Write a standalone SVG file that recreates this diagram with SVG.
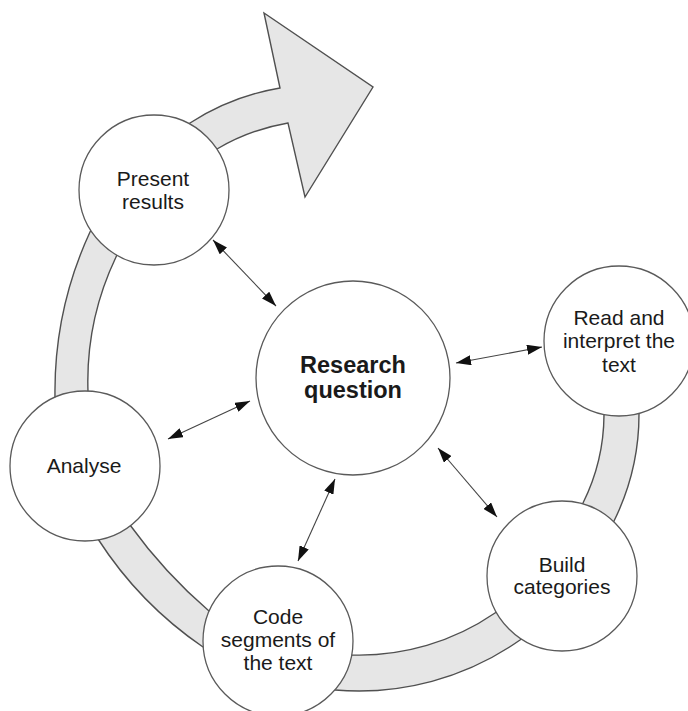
<svg xmlns="http://www.w3.org/2000/svg" width="688" height="711" viewBox="0 0 688 711">
<defs>
<style>
.node{fill:#ffffff;stroke:#5a5a5a;stroke-width:1.3}
.band{fill:#e6e6e6;stroke:#505050;stroke-width:1.4;stroke-linejoin:miter}
.conn{stroke:#444;stroke-width:1.1;fill:none;marker-start:url(#ah);marker-end:url(#ah)}
.lbl{font-family:"Liberation Sans",Arial,sans-serif;font-size:21px;fill:#1a1a1a;text-anchor:middle}
.bold{font-size:23.5px;font-weight:bold}
</style>
<marker id="ah" viewBox="0 0 15 10" refX="15" refY="5" markerWidth="15" markerHeight="10" markerUnits="userSpaceOnUse" orient="auto-start-reverse">
<path d="M0,0 L15,5 L0,10 z" fill="#111"/>
</marker>
</defs>
<rect width="688" height="711" fill="#ffffff"/>
<g id="cycle-arrow">
<path class="band" d="M643,372 L639,414 A240,240 0 0 1 614,521 A300,300 0 0 1 520,640 A280,280 0 0 1 335,690 A300,300 0 0 1 203,647 A380,380 0 0 1 98,539 A300,300 0 0 1 55,397 A380,380 0 0 1 90,232 A300,300 0 0 1 190,123 A240,240 0 0 1 280,88 L264,13 L373,87 L305,197 L288,123 A210,210 0 0 0 217,149 A260,260 0 0 0 116,257 A290,290 0 0 0 88,392 A260,260 0 0 0 130,525 A500,500 0 0 0 209,611 A520,520 0 0 0 352,655 A240,240 0 0 0 495,613 A260,260 0 0 0 583,503 A200,200 0 0 0 604,415 L607,372 Z"/>
</g>
<g id="connectors">
<line class="conn" x1="213" y1="240" x2="276" y2="306"/>
<line class="conn" x1="168" y1="439" x2="250" y2="401"/>
<line class="conn" x1="456" y1="363" x2="542" y2="347"/>
<line class="conn" x1="298" y1="561" x2="335" y2="479"/>
<line class="conn" x1="438" y1="448" x2="497" y2="517"/>
</g>
<g id="present-results">
<circle class="node" cx="154" cy="190" r="75"/>
<text class="lbl" x="153" y="186">Present</text>
<text class="lbl" x="153" y="209">results</text>
</g>
<g id="research-question">
<circle class="node" cx="353" cy="378" r="97"/>
<text class="lbl bold" x="353" y="373">Research</text>
<text class="lbl bold" x="353" y="398">question</text>
</g>
<g id="read-interpret">
<circle class="node" cx="619" cy="341" r="75"/>
<text class="lbl" x="619" y="325">Read and</text>
<text class="lbl" x="619" y="348">interpret the</text>
<text class="lbl" x="619" y="372">text</text>
</g>
<g id="analyse">
<circle class="node" cx="85" cy="466" r="75"/>
<text class="lbl" x="84" y="473">Analyse</text>
</g>
<g id="code-segments">
<circle class="node" cx="278" cy="641" r="75"/>
<text class="lbl" x="278" y="624">Code</text>
<text class="lbl" x="278" y="647">segments of</text>
<text class="lbl" x="278" y="670">the text</text>
</g>
<g id="build-categories">
<circle class="node" cx="562" cy="576" r="75"/>
<text class="lbl" x="562" y="572">Build</text>
<text class="lbl" x="562" y="594">categories</text>
</g>
</svg>
